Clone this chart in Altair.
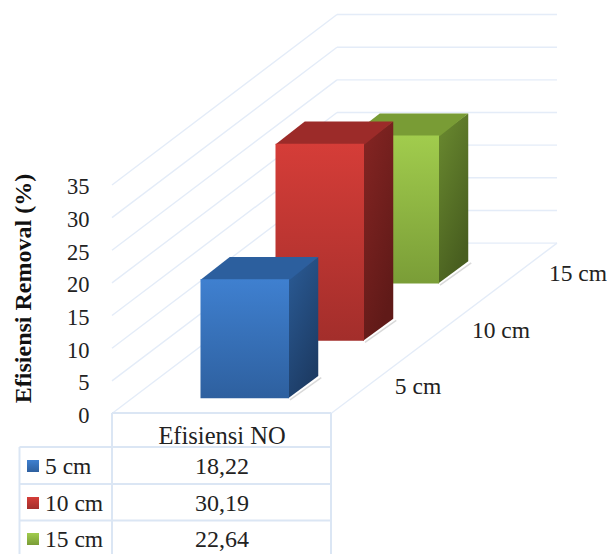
import altair as alt
import pandas as pd

categories = ["5 cm", "10 cm", "15 cm"]
values = [18.22, 30.19, 22.64]
axis_ticks = [0, 5, 10, 15, 20, 25, 30, 35]
group_label = "Efisiensi NO"
axis_title = "Efisiensi Removal (%)"

# Oblique projection of the 3D box
PX_PER_UNIT = 6.53
ORIGIN_X, ORIGIN_Y = 112, 413.5
FLOOR_W = 219
STEP_X, STEP_Y = 75, 56.8 / PX_PER_UNIT
BAR_U, BAR_W = 68.25, 88.5
BAR_D0, BAR_DSTEP, BAR_DEPTH = 0.27, 1.01, 0.39
W, H = 607, 554

palette = {
    "5 cm": dict(front=("#3f80d0", "#2e609f"), side=("#2b5c97", "#1d3c65"), top="#2c5f9e"),
    "10 cm": dict(front=("#d53d38", "#a32e2b"), side=("#862523", "#601a18"), top="#9c2b29"),
    "15 cm": dict(front=("#a1cc4d", "#7a9d37"), side=("#6b8b30", "#485e1f"), top="#799c35"),
}
GRID = "#e4ecf8"
TABLE = "#dbe6f4"
SERIF = "Liberation Serif"

x_scale = alt.Scale(domain=[0, W], range=[0, W], nice=False, zero=False)
y_scale = alt.Scale(
    domain=[-(H - ORIGIN_Y) / PX_PER_UNIT, ORIGIN_Y / PX_PER_UNIT],
    range=[H, 0], nice=False, zero=False,
)
X = lambda f="x": alt.X(f"{f}:Q", scale=x_scale, axis=None)
Y = lambda f="y": alt.Y(f"{f}:Q", scale=y_scale, axis=None)


def row_y(pixel):
    return (ORIGIN_Y - pixel) / PX_PER_UNIT


def vertical(c1, c2, x2=0):
    return alt.LinearGradient(
        gradient="linear", x1=0, y1=0, x2=x2, y2=1,
        stops=[alt.GradientStop(color=c1, offset=0), alt.GradientStop(color=c2, offset=1)],
    )


# Walls and floor
depth = 3 * STEP_X
rise = 3 * STEP_Y
grid_rows = []
for t in axis_ticks:
    grid_rows.append(dict(x=ORIGIN_X, x2=ORIGIN_X + depth, y=t, y2=t + rise))
    grid_rows.append(dict(x=ORIGIN_X + depth, x2=ORIGIN_X + depth + 220, y=t + rise, y2=t + rise))
grid_rows.append(dict(x=ORIGIN_X + FLOOR_W, x2=ORIGIN_X + depth + 220, y=0, y2=rise))
grid = alt.Chart(pd.DataFrame(grid_rows)).mark_rule(color=GRID, strokeWidth=1.4).encode(
    x=X(), x2="x2:Q", y=Y(), y2="y2:Q"
)

# Bars, back to front; side and cap tuck slightly under the front face
bar_layers = []
for i in reversed(range(len(values))):
    name, v = categories[i], values[i]
    c = palette[name]
    x0 = ORIGIN_X + BAR_U + STEP_X * (BAR_D0 + i)
    x1 = x0 + BAR_W
    base = STEP_Y * (BAR_D0 + BAR_DSTEP * i)
    top = base + v
    dx, dy = STEP_X * BAR_DEPTH, STEP_Y * BAR_DEPTH

    shadow = pd.DataFrame([dict(x=x1 + 1, x2=x1 + dx + 3, y=base - 0.25, y2=base + dy - 0.25)])
    bar_layers.append(
        alt.Chart(shadow).mark_rule(color="#b9b9b9", strokeWidth=1.5, opacity=0.55).encode(
            x=X(), x2="x2:Q", y=Y(), y2="y2:Q"
        )
    )
    side = pd.DataFrame([
        dict(x=x1 - 0.8, y=base, y2=top),
        dict(x=x1 + dx, y=base + dy, y2=top + dy),
    ])
    bar_layers.append(
        alt.Chart(side).mark_area(color=vertical(*c["side"], x2=0.5)).encode(x=X(), y=Y(), y2="y2:Q")
    )
    cap = pd.DataFrame([
        dict(y=top - 0.12, x=x0 - 0.15, x2=x1 + 0.5),
        dict(y=top + dy, x=x0 + dx, x2=x1 + dx),
    ])
    bar_layers.append(
        alt.Chart(cap).mark_area(orient="horizontal", color=c["top"]).encode(y=Y(), x=X(), x2="x2:Q")
    )
    front = pd.DataFrame([dict(x=x0, x2=x1, y=base, y2=top)])
    bar_layers.append(
        alt.Chart(front).mark_rect(color=vertical(*c["front"])).encode(x=X(), x2="x2:Q", y=Y(), y2="y2:Q")
    )

# Data table under the plot
ROW_TOPS = [447, 484, 520.5]
table_rows = [dict(x=112, x2=331, y=row_y(413), y2=row_y(413))]
for p in ROW_TOPS:
    table_rows.append(dict(x=19.5, x2=331, y=row_y(p), y2=row_y(p)))
table_rows.append(dict(x=19.5, x2=19.5, y=row_y(447), y2=row_y(H)))
table_rows.append(dict(x=112, x2=112, y=row_y(413), y2=row_y(H)))
table_rows.append(dict(x=331, x2=331, y=row_y(413), y2=row_y(H)))
table = alt.Chart(pd.DataFrame(table_rows)).mark_rule(color=TABLE, strokeWidth=2).encode(
    x=X(), x2="x2:Q", y=Y(), y2="y2:Q"
)

ROW_CENTERS = [466, 503, 539]
swatches = []
for name, p in zip(categories, ROW_CENTERS):
    c = palette[name]
    sw = pd.DataFrame([dict(x=27, x2=39, y=row_y(p - 6), y2=row_y(p + 6))])
    swatches.append(
        alt.Chart(sw).mark_rect(color=vertical(*c["front"])).encode(x=X(), x2="x2:Q", y=Y(), y2="y2:Q")
    )

SIZE = 23.5


def text_layer(rows, align="center", size=SIZE, color="#222222", dy=1, **kw):
    return alt.Chart(pd.DataFrame(rows)).mark_text(
        align=align, baseline="middle", font=SERIF, fontSize=size, color=color, dy=dy, **kw
    ).encode(x=X(), y=Y(), text="t:N")


tick_text = text_layer([dict(x=89.5, y=t, t=str(t)) for t in axis_ticks], align="right", size=22.5, dy=2.5)
header = text_layer([dict(x=222, y=row_y(436), t=group_label)], size=24.5)
value_text = text_layer(
    [dict(x=222, y=row_y(p), t=f"{v:.2f}".replace(".", ",")) for v, p in zip(values, ROW_CENTERS)],
    size=24,
)
legend_text = text_layer(
    [dict(x=45, y=row_y(p), t=n) for n, p in zip(categories, ROW_CENTERS)], align="left"
)
depth_text = text_layer(
    [dict(x=x, y=row_y(p), t=n) for n, x, p in zip(categories, [418, 501, 578], [386, 330, 273])]
)
title_text = text_layer(
    [dict(x=24, y=row_y(288.5), t=axis_title)], size=24, color="#111111", angle=270, fontWeight="bold", dy=0
)

chart = alt.layer(
    grid, *bar_layers, table, *swatches,
    tick_text, header, value_text, legend_text, depth_text, title_text,
).properties(
    width=W, height=H, padding=0, background="white",
    autosize=alt.AutoSizeParams(type="none"),
).configure_view(stroke=None)

chart.save("out.html", embed_options={"renderer": "svg", "actions": False})
